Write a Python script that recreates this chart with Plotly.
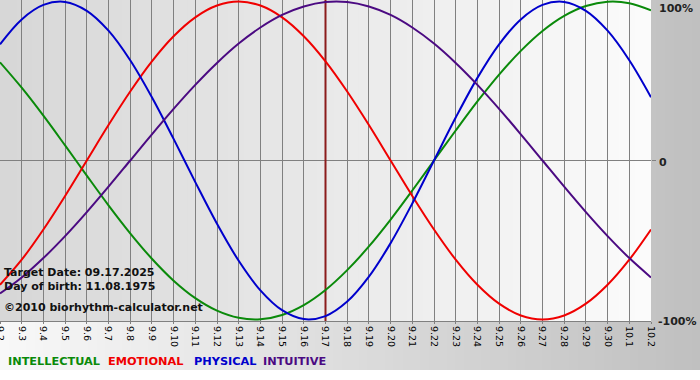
import plotly.graph_objects as go

# ---- data ----
dates = ["9.2", "9.3", "9.4", "9.5", "9.6", "9.7", "9.8", "9.9", "9.10", "9.11",
         "9.12", "9.13", "9.14", "9.15", "9.16", "9.17", "9.18", "9.19", "9.20",
         "9.21", "9.22", "9.23", "9.24", "9.25", "9.26", "9.27", "9.28", "9.29",
         "9.30", "10.1", "10.2"]
physical = [73.1, 88.8, 97.9, 99.8, 94.2, 81.7, 63.1, 39.8, 13.6, -13.6, -39.8,
            -63.1, -81.7, -94.2, -99.8, -97.9, -88.8, -73.1, -52.0, -27.0, 0.0,
            27.0, 52.0, 73.1, 88.8, 97.9, 99.8, 94.2, 81.7, 63.1, 39.8]
emotional = [-78.2, -62.4, -43.4, -22.3, 0.0, 22.3, 43.4, 62.4, 78.2, 90.1, 97.5,
             100.0, 97.5, 90.1, 78.2, 62.4, 43.4, 22.3, 0.0, -22.3, -43.4, -62.4,
             -78.2, -90.1, -97.5, -100.0, -97.5, -90.1, -78.2, -62.4, -43.4]
intellectual = [61.8, 45.8, 28.2, 9.5, -9.5, -28.2, -45.8, -61.8, -75.6, -86.6,
                -94.5, -99.0, -99.9, -97.2, -91.0, -81.5, -69.0, -54.1, -37.2,
                -18.9, 0.0, 18.9, 37.2, 54.1, 69.0, 81.5, 91.0, 97.2, 99.9, 99.0, 94.5]
intuitive = [-83.7, -73.6, -61.4, -47.6, -32.5, -16.5, 0.0, 16.5, 32.5, 47.6, 61.4,
             73.6, 83.7, 91.6, 96.9, 99.7, 99.7, 96.9, 91.6, 83.7, 73.6, 61.4, 47.6,
             32.5, 16.5, 0.0, -16.5, -32.5, -47.6, -61.4, -73.6]
target_date = "9.17"
series_names = ["INTELLECTUAL", "EMOTIONAL", "PHYSICAL", "INTUITIVE"]
series_colors = ["#0a8a0a", "#f00000", "#0000cc", "#4b0a82"]

# ---- layout geometry (pixels) ----
W, H = 700, 380
PL, PR, PT, PB = 0, 651, 0, 321   # plot area
pw, ph = PR - PL, PB - PT


def xp(px):
    return (px - PL) / pw


def yp(py):
    return (PB - py) / ph


x = list(range(len(dates)))
ti = dates.index(target_date)

fig = go.Figure()
# target date line
fig.add_trace(go.Scatter(x=[ti, ti], y=[-101, 101], mode="lines",
                         line=dict(color="#8b1c1c", width=2),
                         hoverinfo="skip", showlegend=False))
for name, vals, col in zip(series_names,
                           [intellectual, emotional, physical, intuitive],
                           series_colors):
    fig.add_trace(go.Scatter(x=x, y=vals, mode="lines", name=name,
                             line=dict(color=col, width=2, shape="spline"),
                             showlegend=False))

# ---- gradient backgrounds via strips ----
shapes = []
N = 80
for i in range(N):
    t = i / (N - 1)
    v = round(248 - (248 - 192) * t)
    x0 = i * W / N
    shapes.append(dict(type="rect", xref="paper", yref="paper",
                       x0=xp(x0), x1=xp(W), y0=yp(370), y1=yp(0),
                       fillcolor=f"rgb({v},{v},{v})", line=dict(width=0),
                       layer="below"))
M = 80
for i in range(M):
    t = i / (M - 1)
    v = round(215 - (215 - 251) * t)
    x0 = PL + i * pw / M
    shapes.append(dict(type="rect", xref="paper", yref="paper",
                       x0=xp(x0), x1=1, y0=0, y1=1,
                       fillcolor=f"rgb({v},{v},{v})", line=dict(width=0),
                       layer="below"))
# white strip at the very bottom
shapes.append(dict(type="rect", xref="paper", yref="paper",
                   x0=xp(0), x1=xp(W), y0=yp(H), y1=yp(370),
                   fillcolor="white", line=dict(width=0), layer="below"))

ann = []
txt_font = dict(family="DejaVu Sans", size=11, color="#111111")
for t, py in [("<b>Target Date: 09.17.2025</b>", 272.5),
              ("<b>Day of birth: 11.08.1975</b>", 286),
              ("<b>©2010 biorhythm-calculator.net</b>", 307)]:
    ann.append(dict(text=t, xref="paper", yref="paper", x=xp(2), y=yp(py),
                    xanchor="left", yanchor="middle", showarrow=False,
                    font=txt_font))
for t, px, py in [("<b>100%</b>", 657, 8), ("<b>0</b>", 657, 162),
                  ("<b>-100%</b>", 656, 322)]:
    ann.append(dict(text=t, xref="paper", yref="paper", x=xp(px), y=yp(py),
                    xanchor="left", yanchor="middle", showarrow=False,
                    font=dict(family="DejaVu Sans", size=11, color="#222222")))
for name, col, px in zip(series_names, series_colors, [6, 106, 192, 261]):
    ann.append(dict(text=f"<b>{name}</b>", xref="paper", yref="paper",
                    x=xp(px), y=yp(361), xanchor="left", yanchor="middle",
                    showarrow=False,
                    font=dict(family="DejaVu Sans", size=11.3, color=col)))

fig.update_layout(
    width=W, height=H,
    margin=dict(l=PL, r=W - PR, t=PT, b=H - PB, pad=0, autoexpand=False),
    paper_bgcolor="white", plot_bgcolor="rgba(0,0,0,0)",
    shapes=shapes, annotations=ann, showlegend=False,
    xaxis=dict(range=[0, len(dates) - 1], tickmode="array", tickvals=x,
               ticktext=dates, tickangle=90, showgrid=True, automargin=False,
               gridcolor="#808080", gridwidth=1, ticks="outside", ticklen=2,
               tickcolor="#808080", showline=True, linecolor="#808080",
               zeroline=False, ticklabeloverflow="allow",
               tickfont=dict(family="DejaVu Sans", size=9.5, color="#000000")),
    yaxis=dict(range=[-101, 101], tickmode="array", tickvals=[0],
               showgrid=True, gridcolor="#808080", gridwidth=1,
               automargin=False,
               showticklabels=False, ticks="outside", ticklen=4,
               tickcolor="#808080", side="right", zeroline=False),
)

fig.write_html(
    "out.html",
    config={"displayModeBar": False},
    post_script="document.body.style.margin='0';document.body.style.padding='0';"
                "document.body.style.overflow='hidden';",
)
